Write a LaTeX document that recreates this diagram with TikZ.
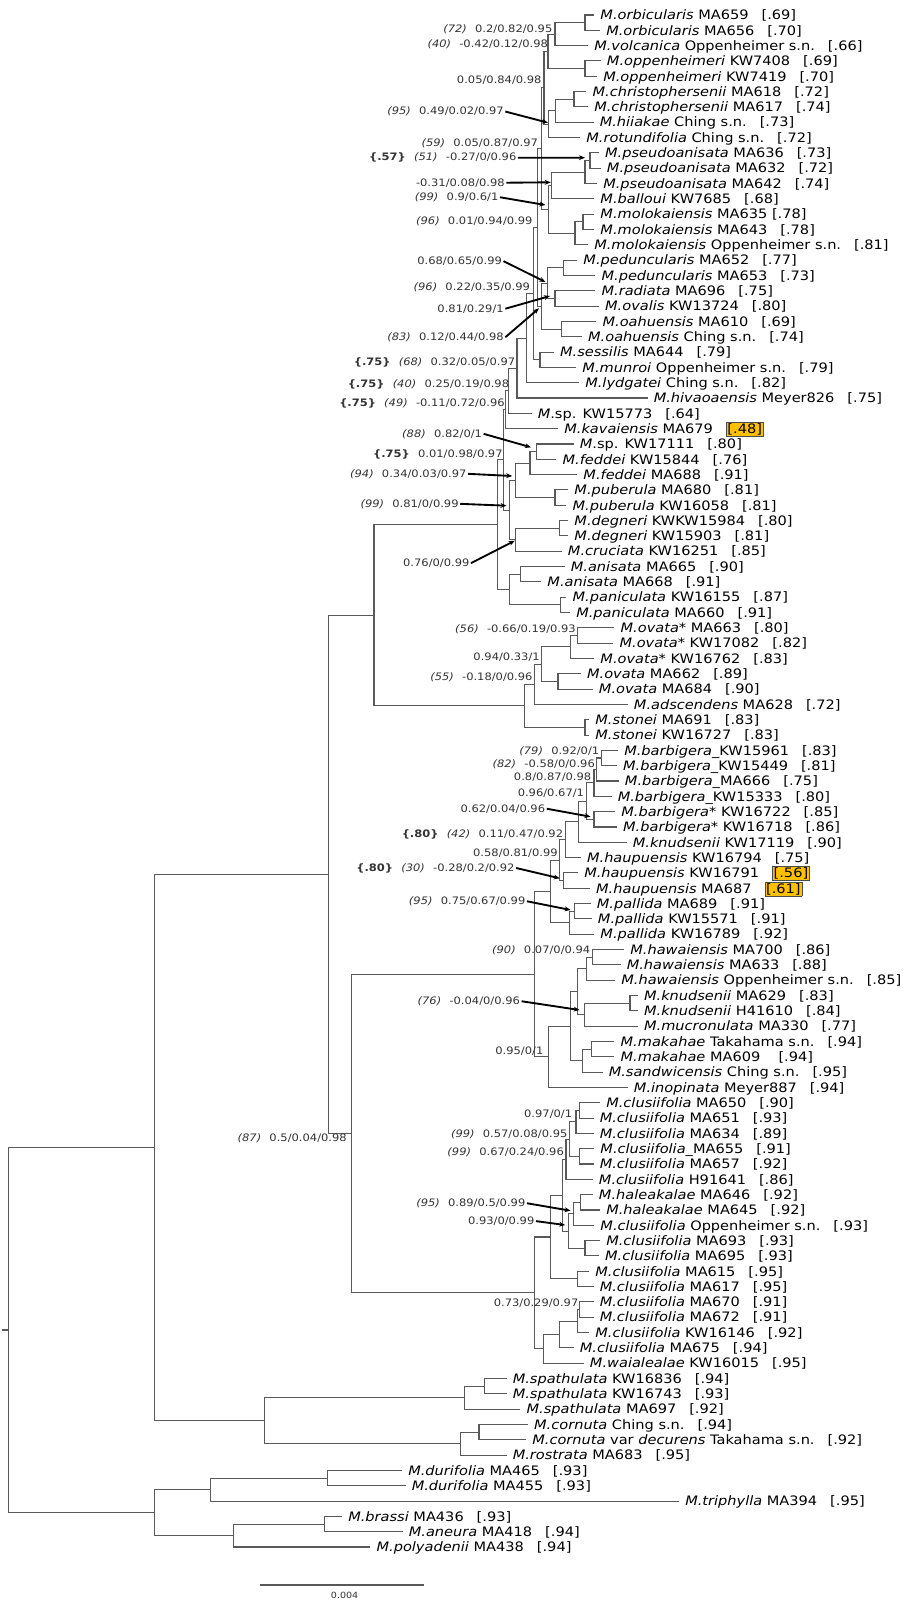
\documentclass[tikz,border=0pt]{standalone}
\usepackage{fontspec}
\setmainfont{DejaVu Sans}[FakeStretch=1.12]
\usetikzlibrary{arrows.meta,calc}
\definecolor{hlc}{HTML}{FFC000}
\newcommand\tgap{\hspace{1em}}
\newcommand\lsep{\hspace{0.8em}}
\newcommand\bsv[1]{\textbf{\{#1\}}}
\newcommand\ppv[1]{\textit{(#1)}}
\newcommand\hlv[1]{{\setlength\fboxsep{0.8pt}\setlength\fboxrule{0.4pt}\fcolorbox{black!70}{hlc}{#1}}}
\newcommand\leafnode[4]{%
  \coordinate (#1) at ({#3-6},{15+15.32*(#2-1)});
  \node[leaflab] (#1t) at ({#3},{19.75+15.32*(#2-1)}) {#4};}
\newcommand\treenode[4]{%
  \path let \p1=(#3), \p2=(#4) in ({#2*0.75pt},{0.5*(\y1+\y2)}) coordinate (#1);
  \draw[branch] (#3) -| (#1) |- (#4);}
\newcommand\nodelab[4]{\node[nlabel] (#1) at ({#2},{#3+3.75}) {#4};}
\newcommand\labarrow[2]{\draw[arrowline] ([xshift=1pt]#1.east) -- (#2);}
\begin{document}
\begin{tikzpicture}[x=0.75pt,y=-0.75pt,
  branch/.style={draw=black!65,line width=0.8pt},
  leaflab/.style={anchor=base west,inner sep=0pt,font=\fontsize{9.75pt}{11pt}\selectfont},
  nlabel/.style={anchor=base east,inner sep=0pt,text=black!80,font=\fontsize{7.7pt}{9pt}\selectfont},
  arrowline/.style={draw=black,line width=1.4pt,-{Stealth[length=4.5pt,width=3.6pt]}}]
\useasboundingbox (0,0) rectangle (905,1600);
\fill[white] (0,0) rectangle (905,1600);
% leaves
\leafnode{L1}{1}{600.2}{\textit{M.orbicularis} MA659\tgap[.69]}
\leafnode{L2}{2}{606}{\textit{M.orbicularis} MA656\tgap[.70]}
\leafnode{L3}{3}{594}{\textit{M.volcanica} Oppenheimer s.n.\tgap[.66]}
\leafnode{L4}{4}{606.7}{\textit{M.oppenheimeri} KW7408\tgap[.69]}
\leafnode{L5}{5}{603}{\textit{M.oppenheimeri} KW7419\tgap[.70]}
\leafnode{L6}{6}{592.3}{\textit{M.christophersenii} MA618\tgap[.72]}
\leafnode{L7}{7}{594}{\textit{M.christophersenii} MA617\tgap[.74]}
\leafnode{L8}{8}{599.5}{\textit{M.hiiakae} Ching s.n.\tgap[.73]}
\leafnode{L9}{9}{586.1}{\textit{M.rotundifolia} Ching s.n.\tgap[.72]}
\leafnode{L10}{10}{604.9}{\textit{M.pseudoanisata} MA636\tgap[.73]}
\leafnode{L11}{11}{606.7}{\textit{M.pseudoanisata} MA632\tgap[.72]}
\leafnode{L12}{12}{603}{\textit{M.pseudoanisata} MA642\tgap[.74]}
\leafnode{L13}{13}{600.2}{\textit{M.balloui} KW7685\tgap[.68]}
\leafnode{L14}{14}{600.2}{\textit{M.molokaiensis} MA635 [.78]}
\leafnode{L15}{15}{600.2}{\textit{M.molokaiensis} MA643\tgap[.78]}
\leafnode{L16}{16}{594}{\textit{M.molokaiensis} Oppenheimer s.n.\tgap[.81]}
\leafnode{L17}{17}{583.2}{\textit{M.peduncularis} MA652\tgap[.77]}
\leafnode{L18}{18}{601.3}{\textit{M.peduncularis} MA653\tgap[.73]}
\leafnode{L19}{19}{601.3}{\textit{M.radiata} MA696\tgap[.75]}
\leafnode{L20}{20}{604.9}{\textit{M.ovalis} KW13724\tgap[.80]}
\leafnode{L21}{21}{602.3}{\textit{M.oahuensis} MA610\tgap[.69]}
\leafnode{L22}{22}{587.9}{\textit{M.oahuensis} Ching s.n.\tgap[.74]}
\leafnode{L23}{23}{559.8}{\textit{M.sessilis} MA644\tgap[.79]}
\leafnode{L24}{24}{582.2}{\textit{M.munroi} Oppenheimer s.n.\tgap[.79]}
\leafnode{L25}{25}{585}{\textit{M.lydgatei} Ching s.n.\tgap[.82]}
\leafnode{L26}{26}{653.5}{\textit{M.hivaoaensis} Meyer826\tgap[.75]}
\leafnode{L27}{27}{537.5}{\textit{M}.sp. KW15773\tgap[.64]}
\leafnode{L28}{28}{564.1}{\textit{M.kavaiensis} MA679\tgap\hlv{[.48]}}
\leafnode{L29}{29}{579.6}{\textit{M}.sp. KW17111\tgap[.80]}
\leafnode{L30}{30}{562.3}{\textit{M.feddei} KW15844\tgap[.76]}
\leafnode{L31}{31}{583.2}{\textit{M.feddei} MA688\tgap[.91]}
\leafnode{L32}{32}{574.2}{\textit{M.puberula} MA680\tgap[.81]}
\leafnode{L33}{33}{572.4}{\textit{M.puberula} KW16058\tgap[.81]}
\leafnode{L34}{34}{574.2}{\textit{M.degneri} KWKW15984\tgap[.80]}
\leafnode{L35}{35}{574.2}{\textit{M.degneri} KW15903\tgap[.81]}
\leafnode{L36}{36}{567.7}{\textit{M.cruciata} KW16251\tgap[.85]}
\leafnode{L37}{37}{570.6}{\textit{M.anisata} MA665\tgap[.90]}
\leafnode{L38}{38}{547.2}{\textit{M.anisata} MA668\tgap[.91]}
\leafnode{L39}{39}{572.4}{\textit{M.paniculata} KW16155\tgap[.87]}
\leafnode{L40}{40}{576}{\textit{M.paniculata} MA660\tgap[.91]}
\leafnode{L41}{41}{620.4}{\textit{M.ovata}* MA663\tgap[.80]}
\leafnode{L42}{42}{619.3}{\textit{M.ovata}* KW17082\tgap[.82]}
\leafnode{L43}{43}{600.2}{\textit{M.ovata}* KW16762\tgap[.83]}
\leafnode{L44}{44}{586.8}{\textit{M.ovata} MA662\tgap[.89]}
\leafnode{L45}{45}{598.7}{\textit{M.ovata} MA684\tgap[.90]}
\leafnode{L46}{46}{633.7}{\textit{M.adscendens} MA628\tgap[.72]}
\leafnode{L47}{47}{595.1}{\textit{M.stonei} MA691\tgap[.83]}
\leafnode{L48}{48}{595.1}{\textit{M.stonei} KW16727\tgap[.83]}
\leafnode{L49}{49}{624}{\textit{M.barbigera\_}KW15961\tgap[.83]}
\leafnode{L50}{50}{622.9}{\textit{M.barbigera\_}KW15449\tgap[.81]}
\leafnode{L51}{51}{624.7}{\textit{M.barbigera\_}MA666\tgap[.75]}
\leafnode{L52}{52}{617.5}{\textit{M.barbigera\_}KW15333\tgap[.80]}
\leafnode{L53}{53}{621.1}{\textit{M.barbigera}* KW16722\tgap[.85]}
\leafnode{L54}{54}{622.9}{\textit{M.barbigera}* KW16718\tgap[.86]}
\leafnode{L55}{55}{632.6}{\textit{M.knudsenii} KW17119\tgap[.90]}
\leafnode{L56}{56}{586.8}{\textit{M.haupuensis} KW16794\tgap[.75]}
\leafnode{L57}{57}{584}{\textit{M.haupuensis} KW16791\tgap\hlv{[.56]}}
\leafnode{L58}{58}{595.9}{\textit{M.haupuensis} MA687\tgap\hlv{[.61]}}
\leafnode{L59}{59}{596.6}{\textit{M.pallida} MA689\tgap[.91]}
\leafnode{L60}{60}{597.7}{\textit{M.pallida} KW15571\tgap[.91]}
\leafnode{L61}{61}{600.2}{\textit{M.pallida} KW16789\tgap[.92]}
\leafnode{L62}{62}{630.1}{\textit{M.hawaiensis} MA700\tgap[.86]}
\leafnode{L63}{63}{626.5}{\textit{M.hawaiensis} MA633\tgap[.88]}
\leafnode{L64}{64}{621.1}{\textit{M.hawaiensis} Oppenheimer s.n.\tgap[.85]}
\leafnode{L65}{65}{643.8}{\textit{M.knudsenii} MA629\tgap[.83]}
\leafnode{L66}{66}{643.8}{\textit{M.knudsenii} H41610\tgap[.84]}
\leafnode{L67}{67}{643.8}{\textit{M.mucronulata} MA330\tgap[.77]}
\leafnode{L68}{68}{620.4}{\textit{M.makahae} Takahama s.n.\tgap[.94]}
\leafnode{L69}{69}{620.4}{\textit{M.makahae} MA609\tgap\hspace{0.4em}[.94]}
\leafnode{L70}{70}{608.5}{\textit{M.sandwicensis} Ching s.n.\tgap[.95]}
\leafnode{L71}{71}{633.7}{\textit{M.inopinata} Meyer887\tgap[.94]}
\leafnode{L72}{72}{606}{\textit{M.clusiifolia} MA650\tgap[.90]}
\leafnode{L73}{73}{599.5}{\textit{M.clusiifolia} MA651\tgap[.93]}
\leafnode{L74}{74}{599.5}{\textit{M.clusiifolia} MA634\tgap[.89]}
\leafnode{L75}{75}{600.2}{\textit{M.clusiifolia\_}MA655\tgap[.91]}
\leafnode{L76}{76}{599.5}{\textit{M.clusiifolia} MA657\tgap[.92]}
\leafnode{L77}{77}{598.7}{\textit{M.clusiifolia} H91641\tgap[.86]}
\leafnode{L78}{78}{598.7}{\textit{M.haleakalae} MA646\tgap[.92]}
\leafnode{L79}{79}{606}{\textit{M.haleakalae} MA645\tgap[.92]}
\leafnode{L80}{80}{600.2}{\textit{M.clusiifolia} Oppenheimer s.n.\tgap[.93]}
\leafnode{L81}{81}{606}{\textit{M.clusiifolia} MA693\tgap[.93]}
\leafnode{L82}{82}{604.9}{\textit{M.clusiifolia} MA695\tgap[.93]}
\leafnode{L83}{83}{595.1}{\textit{M.clusiifolia} MA615\tgap[.95]}
\leafnode{L84}{84}{599.5}{\textit{M.clusiifolia} MA617\tgap[.95]}
\leafnode{L85}{85}{599.5}{\textit{M.clusiifolia} MA670\tgap[.91]}
\leafnode{L86}{86}{599.5}{\textit{M.clusiifolia} MA672\tgap[.91]}
\leafnode{L87}{87}{595.1}{\textit{M.clusiifolia} KW16146\tgap[.92]}
\leafnode{L88}{88}{579.6}{\textit{M.clusiifolia} MA675\tgap[.94]}
\leafnode{L89}{89}{589.7}{\textit{M.waialealae} KW16015\tgap[.95]}
\leafnode{L90}{90}{512.5}{\textit{M.spathulata} KW16836\tgap[.94]}
\leafnode{L91}{91}{512.5}{\textit{M.spathulata} KW16743\tgap[.93]}
\leafnode{L92}{92}{526.4}{\textit{M.spathulata} MA697\tgap[.92]}
\leafnode{L93}{93}{533.9}{\textit{M.cornuta} Ching s.n.\tgap[.94]}
\leafnode{L94}{94}{532.1}{\textit{M.cornuta} var \textit{decurens} Takahama s.n.\tgap[.92]}
\leafnode{L95}{95}{512.5}{\textit{M.rostrata} MA683\tgap[.95]}
\leafnode{L96}{96}{408}{\textit{M.durifolia} MA465\tgap[.93]}
\leafnode{L97}{97}{411.5}{\textit{M.durifolia} MA455\tgap[.93]}
\leafnode{L98}{98}{685}{\textit{M.triphylla} MA394\tgap[.95]}
\leafnode{L99}{99}{348}{\textit{M.brassi} MA436\tgap[.93]}
\leafnode{L100}{100}{408.6}{\textit{M.aneura} MA418\tgap[.94]}
\leafnode{L101}{101}{376.3}{\textit{M.polyadenii} MA438\tgap[.94]}
% internal nodes: upper clade
\treenode{n1}{585}{L1}{L2}
\treenode{n2}{555}{n1}{L3}
\treenode{n3}{585}{L4}{L5}
\treenode{n4}{548}{n2}{n3}
\treenode{n5}{574}{L6}{L7}
\treenode{n6}{555.5}{n5}{L8}
\treenode{n7}{548.3}{n6}{L9}
\treenode{n8}{544}{n4}{n7}
\treenode{n9}{590}{L10}{L11}
\treenode{n10}{585}{n9}{L12}
\treenode{n11}{551.7}{n10}{L13}
\treenode{n12}{583}{L14}{L15}
\treenode{n13}{575}{n12}{L16}
\treenode{n14}{548.3}{n11}{n13}
\treenode{n15}{541.7}{n8}{n14}
\treenode{n16}{563.3}{L17}{L18}
\treenode{n17}{555}{L19}{L20}
\treenode{n18}{547.3}{n16}{n17}
\treenode{n19}{561.6}{L21}{L22}
\treenode{n20}{541.7}{n18}{n19}
\treenode{n21}{537.7}{n15}{n20}
\treenode{n22}{540}{L23}{L24}
\treenode{n23}{533.3}{n21}{n22}
\treenode{n24}{526.7}{n23}{L25}
\treenode{n25}{517}{n24}{L26}
\treenode{n26}{508.5}{n25}{L27}
\treenode{n27}{505.8}{n26}{L28}
\treenode{n28}{536.4}{L29}{L30}
\treenode{n29}{530}{n28}{L31}
\treenode{n30}{555}{L32}{L33}
\treenode{n31}{515.5}{n29}{n30}
\treenode{n32}{559.8}{L34}{L35}
\treenode{n33}{515.9}{n32}{L36}
\treenode{n34}{509.4}{n31}{n33}
\treenode{n35}{503.3}{n27}{n34}
\treenode{n36}{520.2}{L37}{L38}
\treenode{n37}{560.5}{L39}{L40}
\treenode{n38}{509.4}{n36}{n37}
\treenode{nC}{497.5}{n35}{n38}
\treenode{n40}{577.8}{L41}{L42}
\treenode{n41}{570.6}{n40}{L43}
\treenode{n42}{558}{L44}{L45}
\treenode{n43}{541.8}{n41}{n42}
\treenode{n44}{534.6}{n43}{L46}
\treenode{n45}{585}{L47}{L48}
\treenode{nD}{524.5}{n44}{n45}
\treenode{nB}{374}{nC}{nD}
% F clade
\treenode{n50}{601.3}{L49}{L50}
\treenode{n51}{596.6}{n50}{L51}
\treenode{n52}{594}{n51}{L52}
\treenode{n53}{594}{L53}{L54}
\treenode{n54}{586.8}{n52}{n53}
\treenode{n55}{578.6}{n54}{L55}
\treenode{n56}{565.2}{n55}{L56}
\treenode{n57}{563.4}{L57}{L58}
\treenode{n58}{559.8}{n56}{n57}
\treenode{n59}{574.2}{L59}{L60}
\treenode{n60}{569.5}{n59}{L61}
\treenode{n61}{550.8}{n58}{n60}
\treenode{n62}{592.3}{L62}{L63}
\treenode{n63}{586.8}{n62}{L64}
\treenode{n64}{630}{L65}{L66}
\treenode{n65}{584.3}{n64}{L67}
\treenode{n66}{577.8}{n63}{n65}
\treenode{n67}{591.2}{L68}{L69}
\treenode{n68}{582.2}{n67}{L70}
\treenode{n69}{570.6}{n66}{n68}
\treenode{n70}{548.3}{n69}{L71}
\treenode{nH}{534.6}{n61}{n70}
\treenode{n72}{579.6}{L72}{L73}
\treenode{n73}{576}{n72}{L74}
\treenode{n74}{579.6}{L75}{L76}
\treenode{n75}{569.5}{n73}{n74}
\treenode{n76}{566}{n75}{L77}
\treenode{n77}{580.7}{L78}{L79}
\treenode{n78}{573.5}{n77}{L80}
\treenode{n79}{585}{L81}{L82}
\treenode{n80}{568.8}{n78}{n79}
\treenode{n81}{562.7}{n76}{n80}
\treenode{n82}{577.8}{L83}{L84}
\treenode{n83}{550.8}{n81}{n82}
\treenode{n84}{579.6}{L85}{L86}
\treenode{n85}{577.1}{n84}{L87}
\treenode{n86}{559.8}{n85}{L88}
\treenode{n87}{543.6}{n86}{L89}
\treenode{nK}{534.6}{n83}{n87}
\treenode{nF}{351.7}{nH}{nK}
\treenode{nE}{328.6}{nB}{nF}
% G clade
\treenode{n90}{484.8}{L90}{L91}
\treenode{n91}{464.6}{n90}{L92}
\treenode{n92}{479}{L93}{L94}
\treenode{n93}{460.6}{n92}{L95}
\treenode{nG}{264.3}{n91}{n93}
\treenode{nA}{154.7}{nE}{nG}
% outgroup
\treenode{n95}{327.3}{L96}{L97}
\treenode{n96}{210.7}{n95}{L98}
\treenode{n97}{324.4}{L99}{L100}
\treenode{n98}{233.8}{n97}{L101}
\treenode{nO}{154.7}{n96}{n98}
\treenode{root}{8.7}{nA}{nO}
\path (root) ++(-7.2,0) coordinate (rstub);
\draw[branch] (rstub) -- (root);
% node labels
\nodelab{a1}{552.6}{28.3}{\ppv{72}\lsep 0.2/0.82/0.95}
\nodelab{a2}{548.3}{44}{\ppv{40}\lsep -0.42/0.12/0.98}
\nodelab{a3}{541.8}{79.3}{0.05/0.84/0.98}
\nodelab{a4}{504}{111}{\ppv{95}\lsep 0.49/0.02/0.97}
\nodelab{a5}{538.2}{142.7}{\ppv{59}\lsep 0.05/0.87/0.97}
\nodelab{a6}{516.6}{157}{\bsv{.57}\lsep\ppv{51}\lsep -0.27/0/0.96}
\nodelab{a7}{505}{182.3}{-0.31/0.08/0.98}
\nodelab{a8}{498.6}{196.7}{\ppv{99}\lsep 0.9/0.6/1}
\nodelab{a9}{532.8}{220.7}{\ppv{96}\lsep 0.01/0.94/0.99}
\nodelab{a10}{502.2}{260.7}{0.68/0.65/0.99}
\nodelab{a11}{530.3}{286.7}{\ppv{96}\lsep 0.22/0.35/0.99}
\nodelab{a12}{504}{308.3}{0.81/0.29/1}
\nodelab{a13}{504}{336.7}{\ppv{83}\lsep 0.12/0.44/0.98}
\nodelab{a14}{515.5}{361.7}{\bsv{.75}\lsep\ppv{68}\lsep 0.32/0.05/0.97}
\nodelab{a15}{509.4}{383.3}{\bsv{.75}\lsep\ppv{40}\lsep 0.25/0.19/0.98}
\nodelab{a16}{505}{402.3}{\bsv{.75}\lsep\ppv{49}\lsep -0.11/0.72/0.96}
\nodelab{a17}{482.3}{433.3}{\ppv{88}\lsep 0.82/0/1}
\nodelab{a18}{502.9}{453.3}{\bsv{.75}\lsep 0.01/0.98/0.97}
\nodelab{a19}{466.8}{473.3}{\ppv{94}\lsep 0.34/0.03/0.97}
\nodelab{a20}{458.9}{503.3}{\ppv{99}\lsep 0.81/0/0.99}
\nodelab{a21}{469.7}{562.7}{0.76/0/0.99}
\nodelab{a22}{576}{628.3}{\ppv{56}\lsep -0.66/0.19/0.93}
\nodelab{a23}{540}{656.7}{0.94/0.33/1}
\nodelab{a24}{532.8}{676.7}{\ppv{55}\lsep -0.18/0/0.96}
\nodelab{a25}{599.5}{750.7}{\ppv{79}\lsep 0.92/0/1}
\nodelab{a26}{595.1}{763.3}{\ppv{82}\lsep -0.58/0/0.96}
\nodelab{a27}{591.5}{776.7}{0.8/0.87/0.98}
\nodelab{a28}{584.3}{792.7}{0.96/0.67/1}
\nodelab{a29}{545.4}{808.3}{0.62/0.04/0.96}
\nodelab{a30}{563.4}{833.3}{\bsv{.80}\lsep\ppv{42}\lsep 0.11/0.47/0.92}
\nodelab{a31}{558}{852.3}{0.58/0.81/0.99}
\nodelab{a32}{514.8}{867.3}{\bsv{.80}\lsep\ppv{30}\lsep -0.28/0.2/0.92}
\nodelab{a33}{525.6}{900.7}{\ppv{95}\lsep 0.75/0.67/0.99}
\nodelab{a34}{590.5}{949.3}{\ppv{90}\lsep 0.07/0/0.94}
\nodelab{a35}{520.2}{1000.7}{\ppv{76}\lsep -0.04/0/0.96}
\nodelab{a36}{543.6}{1050.7}{0.95/0/1}
\nodelab{a37}{572.4}{1113.3}{0.97/0/1}
\nodelab{a38}{567.7}{1133.3}{\ppv{99}\lsep 0.57/0.08/0.95}
\nodelab{a39}{564.1}{1151.7}{\ppv{99}\lsep 0.67/0.24/0.96}
\nodelab{a40}{347}{1138}{\ppv{87}\lsep 0.5/0.04/0.98}
\nodelab{a41}{525.6}{1202.7}{\ppv{95}\lsep 0.89/0.5/0.99}
\nodelab{a42}{534.6}{1220.7}{0.93/0/0.99}
\nodelab{a43}{578.6}{1302.3}{0.73/0.29/0.97}
% arrow targets
\coordinate (t4) at (548,122.7);
\coordinate (t6) at (585,157.7);
\coordinate (t7) at (550.8,182.3);
\coordinate (t8) at (545.4,205);
\coordinate (t10) at (545.5,282);
\coordinate (t12) at (550,296);
\coordinate (t13) at (539,308.3);
\coordinate (t17) at (531,447.3);
\coordinate (t19) at (512.2,476);
\coordinate (t20) at (506.5,505.7);
\coordinate (t21) at (514.8,540.7);
\coordinate (t29) at (590.5,816.7);
\coordinate (t32) at (559.8,878.3);
\coordinate (t33) at (570.6,910);
\coordinate (t35) at (579.6,1010);
\coordinate (t41) at (570.6,1210.7);
\coordinate (t42) at (565.2,1225);
\labarrow{a4}{t4}
\labarrow{a6}{t6}
\labarrow{a7}{t7}
\labarrow{a8}{t8}
\labarrow{a10}{t10}
\labarrow{a12}{t12}
\labarrow{a13}{t13}
\labarrow{a17}{t17}
\labarrow{a19}{t19}
\labarrow{a20}{t20}
\labarrow{a21}{t21}
\labarrow{a29}{t29}
\labarrow{a32}{t32}
\labarrow{a33}{t33}
\labarrow{a35}{t35}
\labarrow{a41}{t41}
\labarrow{a42}{t42}
% scale bar
\coordinate (sb1) at (259.7,1585);
\coordinate (sb2) at (424.2,1585);
\draw[branch] (sb1) -- (sb2);
\node[inner sep=0pt,text=black!80,font=\fontsize{6.4pt}{7pt}\selectfont] (sbl) at (344.6,1595) {0.004};
\end{tikzpicture}
\end{document}
